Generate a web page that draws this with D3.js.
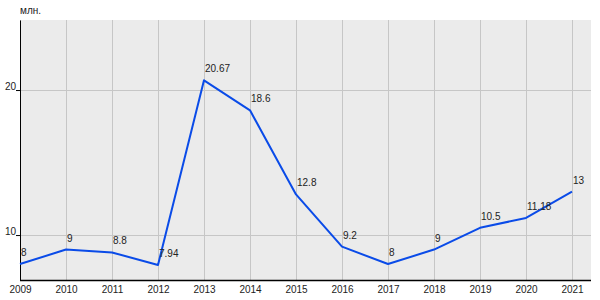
<!DOCTYPE html>
<html>
<head>
<meta charset="utf-8">
<script src="https://cdn.jsdelivr.net/npm/d3@7"></script>
<style>
  body { margin: 0; background: #fff; }
  svg text { font-family: "Liberation Sans", Arial, sans-serif; font-size: 10px; fill: #222; }
</style>
</head>
<body>
<div id="chart"></div>
<script>
const years = [2009, 2010, 2011, 2012, 2013, 2014, 2015, 2016, 2017, 2018, 2019, 2020, 2021];
const values = [8, 9, 8.8, 7.94, 20.67, 18.6, 12.8, 9.2, 8, 9, 10.5, 11.18, 13];
const valueLabels = ['8', '9', '8.8', '7.94', '20.67', '18.6', '12.8', '9.2', '8', '9', '10.5', '11.18', '13'];
const yTicks = [10, 20];
const unit = 'млн.';

const width = 600, height = 300;
const margin = { top: 20, right: 9, bottom: 20, left: 20 };
const w = width - margin.left - margin.right;
const h = height - margin.top - margin.bottom;

const svg = d3.select('#chart').append('svg')
  .attr('width', width)
  .attr('height', height);

const g = svg.append('g')
  .attr('transform', 'translate(' + margin.left + ',' + margin.top + ')');

const x = d3.scaleLinear().domain([2009, 2021]).range([0, 552]);
const y = d3.scaleLinear().domain([6.9, 24.83]).range([h, 0]);

// plot background
g.append('rect')
  .attr('width', w)
  .attr('height', h)
  .attr('fill', '#ebebeb');

// vertical gridlines
g.append('g')
  .selectAll('line')
  .data(years)
  .enter().append('line')
  .attr('x1', d => x(d) + 0.5)
  .attr('x2', d => x(d) + 0.5)
  .attr('y1', 0)
  .attr('y2', h)
  .attr('stroke', '#c6c6c6');

// horizontal gridlines
g.append('g')
  .selectAll('line')
  .data(yTicks)
  .enter().append('line')
  .attr('x1', 0)
  .attr('x2', w)
  .attr('y1', d => Math.round(y(d)) + 0.5)
  .attr('y2', d => Math.round(y(d)) + 0.5)
  .attr('stroke', '#c6c6c6');

// y axis
const yAxis = g.append('g')
  .call(d3.axisLeft(y).tickValues(yTicks).tickSize(4).tickSizeOuter(0));
yAxis.select('.domain').attr('stroke', '#000');
yAxis.selectAll('.tick line').attr('stroke', '#000');
yAxis.selectAll('.tick text')
  .attr('x', -4)
  .attr('dy', '-0.1em')
  .style('font-size', '10px')
  .attr('fill', '#222');

// x axis
const xAxis = g.append('g')
  .attr('transform', 'translate(0,' + h + ')')
  .call(d3.axisBottom(x).tickValues(years).tickFormat(d3.format('d')).tickSize(0).tickSizeOuter(0));
xAxis.select('.domain').attr('d', 'M0,0.5H' + w).attr('stroke', '#000').attr('stroke-width', 1.5);
xAxis.selectAll('.tick text')
  .attr('y', 6)
  .attr('dy', '0.71em')
  .style('font-size', '10px')
  .attr('fill', '#222');

// unit label
svg.append('text')
  .attr('x', margin.left)
  .attr('y', 14)
  .text(unit);

const data = years.map((d, i) => ({ year: d, value: values[i], label: valueLabels[i] }));

const line = d3.line()
  .x(d => x(d.year))
  .y(d => y(d.value));

g.append('path')
  .datum(data)
  .attr('d', line)
  .attr('fill', 'none')
  .attr('stroke', '#0a4be8')
  .attr('stroke-width', 2)
  .attr('stroke-linejoin', 'round');

g.append('g')
  .selectAll('text')
  .data(data)
  .enter().append('text')
  .attr('x', d => x(d.year) + 1)
  .attr('y', d => y(d.value) - 8)
  .text(d => d.label);
</script>
</body>
</html>
